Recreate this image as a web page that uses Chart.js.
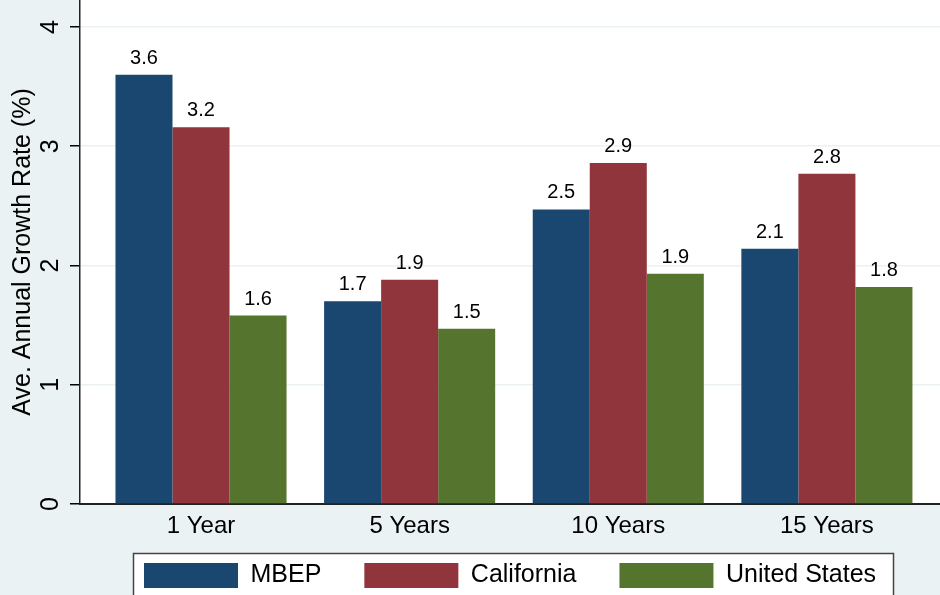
<!DOCTYPE html>
<html>
<head>
<meta charset="utf-8">
<script src="https://cdn.jsdelivr.net/npm/chart.js@4"></script>
<style>
  html, body { margin: 0; padding: 0; overflow: hidden; background: #eaf2f3; }
  #wrap { position: absolute; left: 0; top: 0; width: 950px; height: 622px; }
</style>
</head>
<body>
<div id="wrap"><canvas id="growth-chart"></canvas></div>
<script>
// chart data
const categories = ["1 Year", "5 Years", "10 Years", "15 Years"];
const seriesNames = ["MBEP", "California", "United States"];
const mbep = [3.60, 1.70, 2.47, 2.14];
const california = [3.16, 1.88, 2.86, 2.77];
const unitedStates = [1.58, 1.47, 1.93, 1.82];
const yTicks = [0, 1, 2, 3, 4];

const colors = ["#1a476f", "#90353b", "#55752f"];
const font = "'Liberation Sans', Arial, Helvetica, sans-serif";

// turn a value list into points on the numeric x axis
function toPoints(values) {
  return values.map((v, i) => ({ x: i + 1, y: v }));
}

// white plot region + legend frame
const backdrop = {
  id: "backdrop",
  afterLayout(chart) {
    const lg = chart.legend;
    const w = lg.right - lg.left;
    lg.left = 101;
    lg.right = 101 + w;
    lg.top = 520;
    lg.bottom = 600;
  },
  beforeDraw(chart) {
    const { ctx, chartArea } = chart;
    ctx.save();
    ctx.fillStyle = "#ffffff";
    ctx.fillRect(chartArea.left, chartArea.top, chartArea.right - chartArea.left, chartArea.bottom - chartArea.top);
    ctx.fillRect(133, 553, 760, 80);
    ctx.strokeStyle = "#444";
    ctx.lineWidth = 1.5;
    ctx.strokeRect(133.5, 553.5, 760, 80);
    ctx.restore();
  },
};

// value labels over the bars
const barLabels = {
  id: "barLabels",
  afterDatasetsDraw(chart) {
    const ctx = chart.ctx;
    ctx.save();
    ctx.font = "20px " + font;
    ctx.fillStyle = "#000";
    ctx.textAlign = "center";
    ctx.textBaseline = "alphabetic";
    chart.data.datasets.forEach((ds, d) => {
      chart.getDatasetMeta(d).data.forEach((bar, i) => {
        ctx.fillText(ds.data[i].y.toFixed(1), bar.x, bar.y - 11);
      });
    });
    ctx.restore();
  },
};

const ctx = document.getElementById("growth-chart");
new Chart(ctx, {
  type: "bar",
  data: {
    datasets: [
      { label: seriesNames[0], data: toPoints(mbep), backgroundColor: colors[0] },
      { label: seriesNames[1], data: toPoints(california), backgroundColor: colors[1] },
      { label: seriesNames[2], data: toPoints(unitedStates), backgroundColor: colors[2] },
    ],
  },
  options: {
    responsive: true,
    maintainAspectRatio: false,
    animation: false,
    layout: { padding: 0 },
    datasets: {
      bar: { categoryPercentage: 0.82, barPercentage: 1.0, borderWidth: 0 },
    },
    scales: {
      x: {
        type: "linear",
        offset: false,
        min: 0.42,
        max: 4.59,
        afterBuildTicks: (s) => { s.ticks = categories.map((c, i) => ({ value: i + 1 })); },
        afterFit: (s) => { s.height = 40; },
        grid: { display: false, offset: false },
        border: { display: true, color: "#222", width: 2 },
        ticks: {
          padding: 0,
          autoSkip: false,
          maxRotation: 0,
          color: "#000",
          font: { family: font, size: 24 },
          callback: (v) => categories[v - 1],
        },
      },
      y: {
        min: 0,
        max: 4.226,
        afterBuildTicks: (s) => { s.ticks = yTicks.map((v) => ({ value: v })); },
        afterFit: (s) => { s.width = 80; s.paddingTop = 0; },
        grid: { color: "#eaf2f3", lineWidth: 1.5, tickColor: "#000", tickLength: 10, tickWidth: 1.5 },
        border: { display: true, color: "#222", width: 1.5 },
        ticks: {
          minRotation: 90,
          maxRotation: 90,
          crossAlign: "center",
          padding: 12,
          color: "#000",
          font: { family: font, size: 25 },
        },
        title: {
          display: true,
          text: "Ave. Annual Growth Rate (%)",
          color: "#000",
          font: { family: font, size: 25 },
          padding: { top: 8, bottom: 0 },
        },
      },
    },
    plugins: {
      tooltip: { enabled: false },
      legend: {
        position: "bottom",
        align: "start",
        labels: {
          boxWidth: 94,
          boxHeight: 25,
          padding: 43,
          color: "#000",
          font: { family: font, size: 25 },
        },
      },
    },
  },
  plugins: [backdrop, barLabels],
});
</script>
</body>
</html>
